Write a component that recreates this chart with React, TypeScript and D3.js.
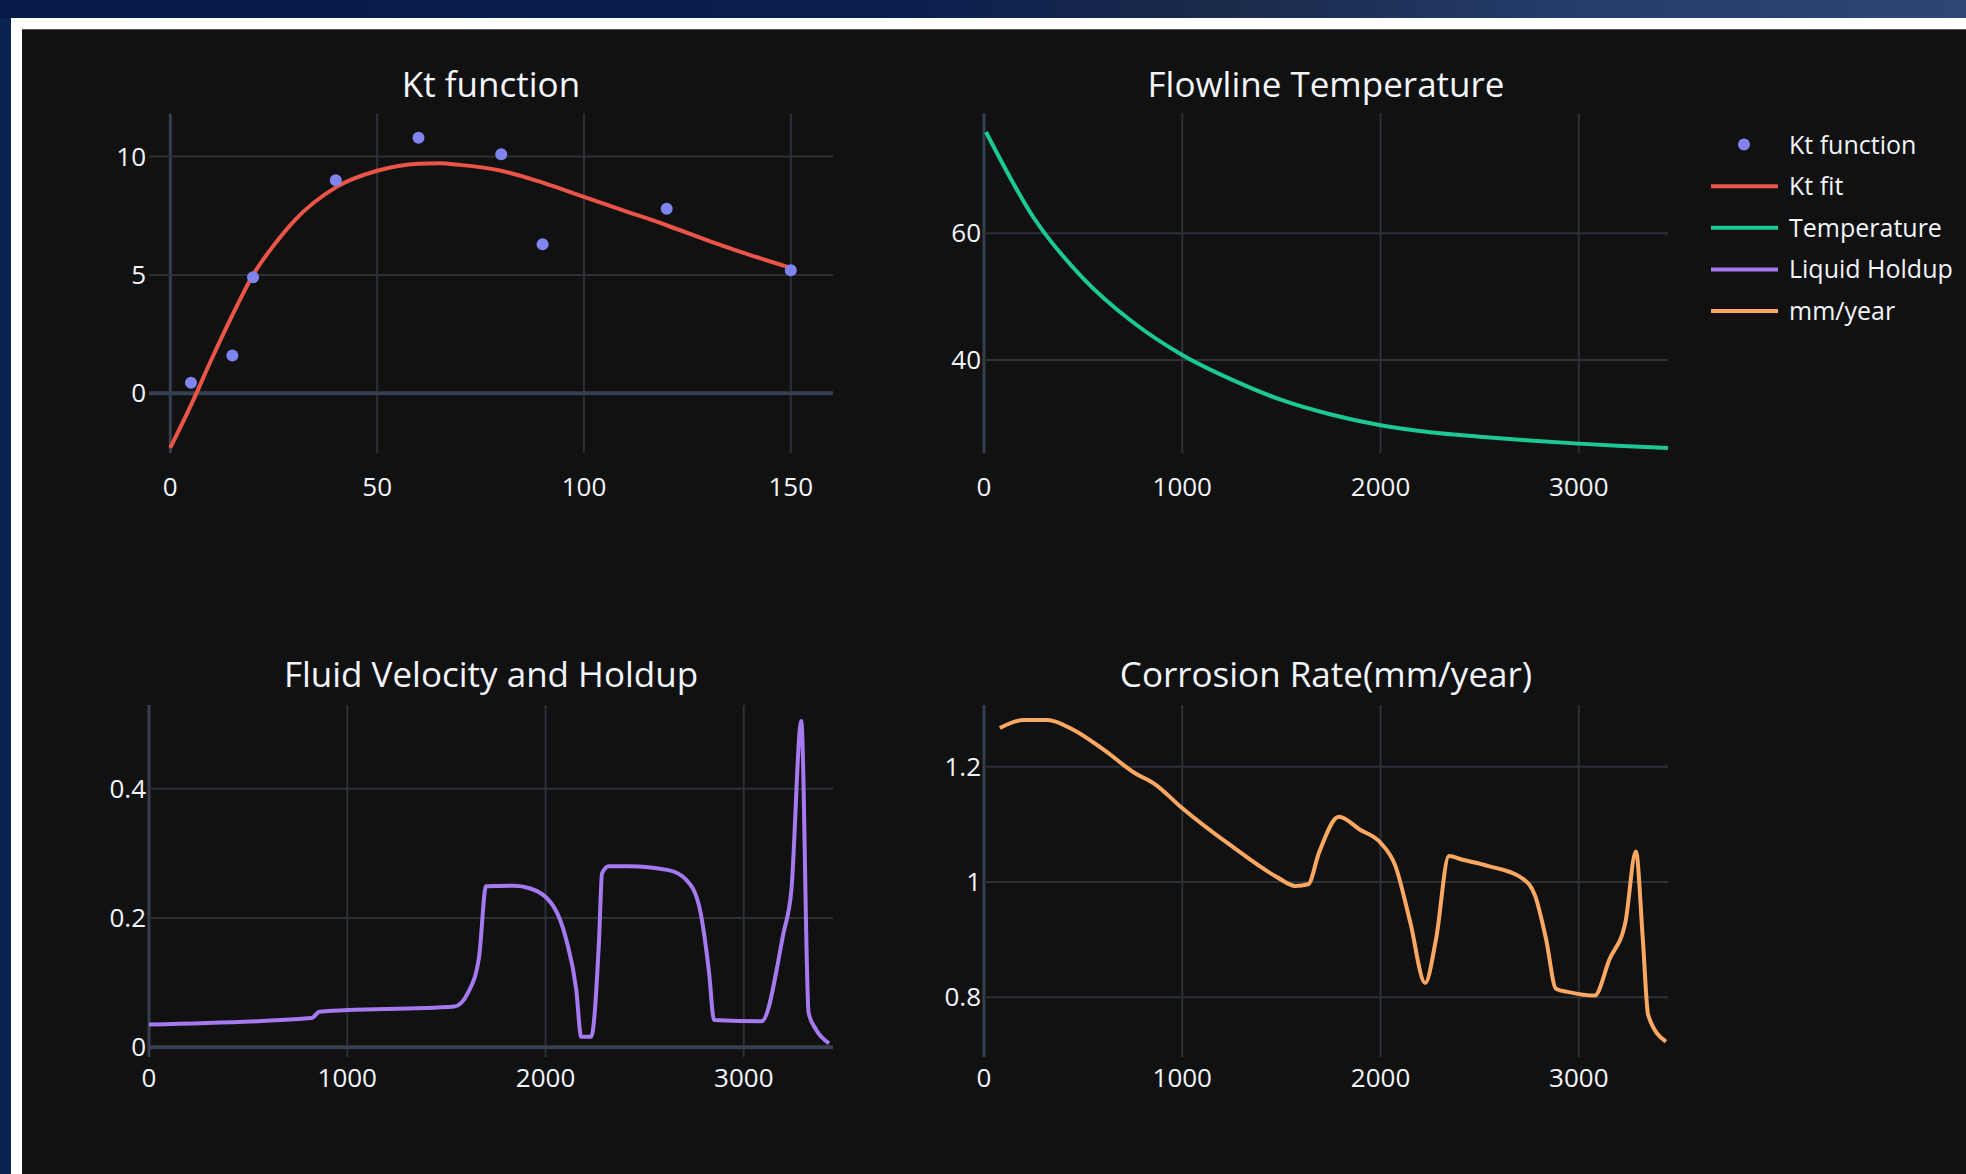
import React from 'react';
import * as d3 from 'd3';

// ---------- data ----------
const ktX = [5, 15, 20, 40, 60, 80, 90, 120, 150];
const ktY = [0.45, 1.6, 4.9, 9.0, 10.8, 10.1, 6.3, 7.8, 5.2];

const fitX = [0, 5, 10, 15, 20, 25, 30, 40, 50, 60, 65, 70, 80, 90, 100, 110, 120, 130, 140, 150];
const fitY = [-2.3, -0.5, 1.45, 3.3, 5.0, 6.25, 7.3, 8.7, 9.4, 9.7, 9.72, 9.65, 9.4, 8.9, 8.3, 7.7, 7.1, 6.45, 5.85, 5.3];

const tempX = [10, 250, 500, 750, 1000, 1250, 1500, 1750, 2000, 2250, 2500, 2750, 3000, 3250, 3450];
const tempY = [76.0, 62.5, 52.9, 46.0, 40.8, 36.9, 33.7, 31.4, 29.7, 28.6, 27.9, 27.3, 26.8, 26.4, 26.1];

const holdX = [0, 820, 860, 1540, 1610, 1665, 1700, 1840, 1920, 2040, 2105, 2155, 2180, 2230, 2270, 2285, 2320, 2420, 2620, 2710, 2775, 2825, 2850, 3090, 3200, 3240, 3290, 3327, 3365, 3430];
const holdY = [0.035, 0.045, 0.055, 0.063, 0.085, 0.14, 0.249, 0.25, 0.246, 0.218, 0.166, 0.089, 0.016, 0.016, 0.166, 0.269, 0.28, 0.28, 0.274, 0.259, 0.218, 0.115, 0.042, 0.04, 0.176, 0.243, 0.505, 0.053, 0.027, 0.006];

const corX = [80, 200, 320, 450, 605, 760, 865, 990, 1250, 1480, 1570, 1635, 1690, 1790, 1895, 2000, 2075, 2150, 2225, 2280, 2345, 2410, 2540, 2720, 2780, 2835, 2885, 2950, 3080, 3155, 3235, 3288, 3323, 3350, 3440];
const corY = [1.267, 1.281, 1.281, 1.264, 1.229, 1.189, 1.169, 1.131, 1.062, 1.008, 0.993, 0.996, 1.051, 1.113, 1.091, 1.068, 1.028, 0.93, 0.825, 0.901, 1.045, 1.039, 1.028, 1.005, 0.976, 0.901, 0.815, 0.809, 0.803, 0.866, 0.93, 1.053, 0.901, 0.769, 0.723];

const titles = ['Kt function', 'Flowline Temperature', 'Fluid Velocity and Holdup', 'Corrosion Rate(mm/year)'];
const legendNames = ['Kt function', 'Kt fit', 'Temperature', 'Liquid Holdup', 'mm/year'];
const colors = ['#7f84ee', '#ea5548', '#1cc893', '#a57af0', '#fba863'];

const ktXTicks = [0, 50, 100, 150];
const ktYTicks = [0, 5, 10];
const tempYTicks = [40, 60];
const distTicks = [0, 1000, 2000, 3000];
const holdYTicks = [0, 0.2, 0.4];
const corYTicks = [0.8, 1, 1.2];

// ---------- layout ----------
const W = 1966, H = 1174;
const col1 = [149, 833];
const col2 = [984, 1668];
const row1 = [113.5, 453];
const row2 = [705, 1057];
const FONT = '"Open Sans", "Noto Sans", sans-serif';
const TXT = '#f2f5fa';
const GRID = '#2c3138';
const ZERO = '#363f4e';

type PanelProps = {
  x: d3.ScaleLinear<number, number>;
  y: d3.ScaleLinear<number, number>;
  xTicks: number[];
  yTicks: number[];
  title: string;
  titleY: number;
  labelY: number;
  children?: React.ReactNode;
};

function Panel({ x, y, xTicks, yTicks, title, titleY, labelY, children }: PanelProps) {
  const [x0, x1] = x.range();
  const [y1, y0] = y.range();
  const clipId = 'clip' + title.replace(/[^a-z]/gi, '');
  return (
    <g>
      <defs>
        <clipPath id={clipId}>
          <rect x={x0} y={y0 - 4} width={x1 - x0 + 4} height={y1 - y0 + 8} />
        </clipPath>
      </defs>
      {xTicks.map((t) => (
        <line key={'xg' + t} x1={x(t)} x2={x(t)} y1={y0} y2={y1}
          stroke={t === 0 ? ZERO : GRID} strokeWidth={t === 0 ? 3 : 2} />
      ))}
      {yTicks.map((t) => (
        <line key={'yg' + t} x1={x0} x2={x1} y1={y(t)} y2={y(t)}
          stroke={t === 0 ? ZERO : GRID} strokeWidth={t === 0 ? 4 : 2} />
      ))}
      {xTicks.map((t) => (
        <text key={'xt' + t} x={x(t)} y={labelY} textAnchor="middle" fill={TXT}
          fontFamily={FONT} fontSize={26}>{t}</text>
      ))}
      {yTicks.map((t) => (
        <text key={'yt' + t} x={x0 - 3} y={y(t) + 9} textAnchor="end" fill={TXT}
          fontFamily={FONT} fontSize={26}>{t}</text>
      ))}
      <text x={(x0 + x1) / 2} y={titleY} textAnchor="middle" fill={TXT}
        fontFamily={FONT} fontSize={35}>{title}</text>
      <g clipPath={`url(#${clipId})`}>{children}</g>
    </g>
  );
}

export default function App() {
  const xKt = d3.scaleLinear().domain([-5.15, 160.2]).range(col1);
  const yKt = d3.scaleLinear().domain([-2.52, 11.82]).range([row1[1], row1[0]]);
  const xT = d3.scaleLinear().domain([0, 3450]).range(col2);
  const yT = d3.scaleLinear().domain([25.32, 78.92]).range([row1[1], row1[0]]);
  const xH = d3.scaleLinear().domain([0, 3450]).range(col1);
  const yH = d3.scaleLinear().domain([-0.0152, 0.5296]).range([row2[1], row2[0]]);
  const xC = d3.scaleLinear().domain([0, 3450]).range(col2);
  const yC = d3.scaleLinear().domain([0.6965, 1.3069]).range([row2[1], row2[0]]);

  const mk = (xs: number[], ys: number[], sx: any, sy: any) =>
    d3.line<number>().x((_, i) => sx(xs[i])).y((v) => sy(v)).curve(d3.curveMonotoneX)(ys) || '';

  const fitPath = mk(fitX, fitY, xKt, yKt);
  const tempPath = mk(tempX, tempY, xT, yT);
  const holdPath = mk(holdX, holdY, xH, yH);
  const corPath = mk(corX, corY, xC, yC);

  const legY = d3.scaleLinear().domain([0, 4]).range([144.5, 311]);

  return (
    <svg width={W} height={H} style={{ position: 'absolute', left: 0, top: 0 }}>
      <defs>
        <linearGradient id="band" x1="0" x2="1" y1="0" y2="0">
          <stop offset="0" stopColor="#061a48" />
          <stop offset="0.45" stopColor="#0a1f50" />
          <stop offset="0.62" stopColor="#1a2a4a" />
          <stop offset="0.8" stopColor="#243d6c" />
          <stop offset="1" stopColor="#2d4676" />
        </linearGradient>
      </defs>
      <rect x={0} y={0} width={W} height={H} fill="#0a2352" />
      <rect x={0} y={0} width={W} height={18} fill="url(#band)" />
      <rect x={11} y={18} width={W - 11} height={H - 18} fill="#ffffff" />
      <rect x={22} y={29} width={W - 22} height={H - 29} fill="#111111" />
      <line x1={22} x2={W} y1={29.5} y2={29.5} stroke="#5a5a5a" strokeWidth={1} />

      <Panel x={xKt} y={yKt} xTicks={ktXTicks} yTicks={ktYTicks} title={titles[0]} titleY={97} labelY={496}>
        <path d={fitPath} fill="none" stroke={colors[1]} strokeWidth={4} />
        {ktX.map((v, i) => (
          <circle key={i} cx={xKt(v)} cy={yKt(ktY[i])} r={6} fill={colors[0]} />
        ))}
      </Panel>
      <Panel x={xT} y={yT} xTicks={distTicks} yTicks={tempYTicks} title={titles[1]} titleY={97} labelY={496}>
        <path d={tempPath} fill="none" stroke={colors[2]} strokeWidth={4} />
      </Panel>
      <Panel x={xH} y={yH} xTicks={distTicks} yTicks={holdYTicks} title={titles[2]} titleY={687} labelY={1087}>
        <path d={holdPath} fill="none" stroke={colors[3]} strokeWidth={4} />
      </Panel>
      <Panel x={xC} y={yC} xTicks={distTicks} yTicks={corYTicks} title={titles[3]} titleY={687} labelY={1087}>
        <path d={corPath} fill="none" stroke={colors[4]} strokeWidth={4} />
      </Panel>

      {legendNames.map((n, i) => (
        <g key={n}>
          {i === 0 ? (
            <circle cx={1744} cy={legY(i)} r={6} fill={colors[0]} />
          ) : (
            <line x1={1711} x2={1778} y1={legY(i)} y2={legY(i)} stroke={colors[i]} strokeWidth={4} />
          )}
          <text x={1789} y={legY(i) + 9} fill={TXT} fontFamily={FONT} fontSize={25}>{n}</text>
        </g>
      ))}
    </svg>
  );
}
